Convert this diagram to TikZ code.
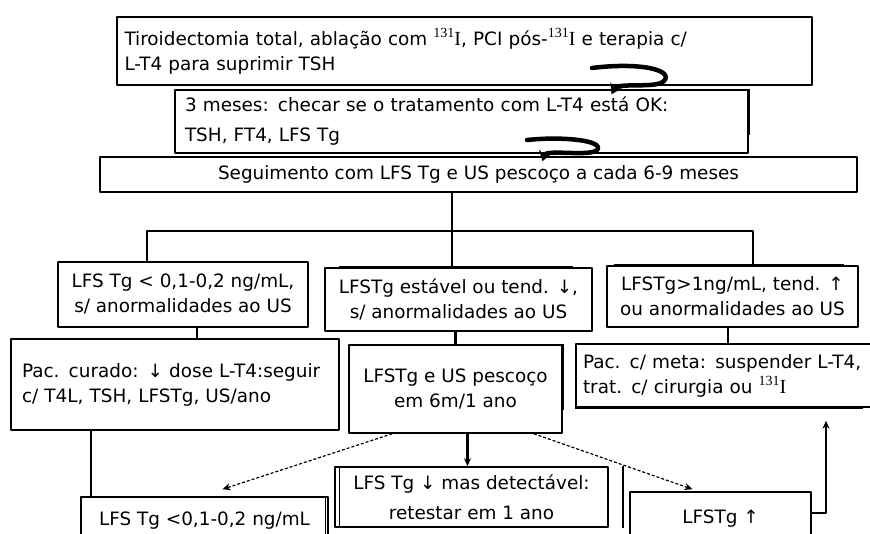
\documentclass[tikz,border=0pt]{standalone}
\usepackage{fontspec}
\setmainfont{DejaVu Sans}
\newfontfamily\timesf{Liberation Serif}
\newcommand\iod{{\timesf\raisebox{0.42em}{\fontsize{14}{14}\selectfont 131}\fontsize{20}{25}\selectfont I}}
\usetikzlibrary{arrows.meta}
\tikzset{box/.style={draw,line width=1.5pt,inner sep=0pt,align=center}}
\begin{document}
\begin{tikzpicture}[>={Stealth[length=8pt,width=7pt]},x=1pt,y=-1pt,line join=round,
  font=\fontsize{18.4}{25}\selectfont,
  conn/.style={line width=2.3pt},
  dsh/.style={->,line width=1.2pt,dash pattern=on 3pt off 2pt},
  curl/.style={-{Stealth[length=10pt,width=13pt]},line width=4.5pt,line cap=round}]
\useasboundingbox (0,0) rectangle (870,534);
\clip (0,0) rectangle (870,534);
\node[box,minimum width=695,minimum height=68,text width=680,align=left] (trat) at (464.5,51)
  {Tiroidectomia total, ablação com \iod, PCI pós-\iod{} e terapia c/\\L-T4 para suprimir TSH};
\node[box,minimum width=573,minimum height=63,text width=553,align=left] (check) at (461.5,121.5)
  {3 meses: checar se o tratamento com L-T4 está OK:\\[5pt]TSH, FT4, LFS Tg};
\node[box,minimum width=757,minimum height=35] (follow) at (478.5,174.5)
  {Seguimento com LFS Tg e US pescoço a cada 6-9 meses};
\node[box,minimum width=250,minimum height=65] (low) at (183,294.5)
  {LFS Tg < 0,1-0,2 ng/mL,\\s/ anormalidades ao US};
\node[box,minimum width=267,minimum height=63] (stable) at (458.5,299.5)
  {LFSTg estável ou tend. ↓,\\s/ anormalidades ao US};
\node[box,minimum width=251,minimum height=61] (high) at (732.5,296.5)
  {LFSTg>1ng/mL, tend. ↑\\ou anormalidades ao US};
\node[box,minimum width=328,minimum height=91,text width=306,align=left] (cured) at (175,384.5)
  {Pac. curado: ↓ dose L-T4:seguir\\c/ T4L, TSH, LFSTg, US/ano};
\node[box,minimum width=213,minimum height=88] (recheck) at (455.5,389)
  {LFSTg e US pescoço\\em 6m/1 ano};
\node[box,minimum width=304,minimum height=63,text width=290,align=left] (meta) at (728,375.5)
  {Pac. c/ meta: suspender L-T4,\\trat. c/ cirurgia ou \iod};
\node[box,minimum width=247,minimum height=48] (lowb) at (204.5,521)
  {LFS Tg <0,1-0,2 ng/mL};
\node[box,minimum width=273,minimum height=60] (down) at (471.5,497)
  {LFS Tg ↓ mas detectável:\\[5pt]retestar em 1 ano};
\node[box,minimum width=181,minimum height=53] (up) at (720.5,518.5)
  {LFSTg ↑};

\coordinate (s1) at (592,68);
\coordinate (s2) at (527,140);
\draw[curl] (s1) .. controls (640,62) and (674,70) .. (664,81) .. controls (656,89) and (618,82) .. ([shift={(150,5)}]check.north);
\draw[curl] (s2) .. controls (565,136) and (605,141) .. (597,150) .. controls (590,157) and (546,149) .. ([shift={(64,5)}]follow.north);

\coordinate (bl) at (147,231);
\coordinate (bm) at (452,231);
\coordinate (br) at (753,231);
\draw[conn] (follow.south -| bm) -- (stable.north -| bm);
\draw[conn] (low.north -| bl) |- (br) -- (high.north -| br);

\coordinate (l2) at ([xshift=14]low.south);
\draw[conn] (l2) -- (l2 |- cured.north);
\draw[conn] (stable.south -| recheck.north) -- (recheck.north);
\draw[conn] (high.south -| meta.north) -- (meta.north);
\coordinate (l1) at ([xshift=11]lowb.north west);
\draw[conn] (cured.south -| l1) -- (l1);
\coordinate (r2) at ([xshift=12]recheck.south);
\draw[conn,->] (r2) -- (r2 |- down.north);
\draw[dsh] ([xshift=44]recheck.south west) -- ([shift={(18,-7)}]lowb.north);
\draw[dsh] ([xshift=-29]recheck.south east) -- ([shift={(-28,-2)}]up.north);
\draw[conn,->] ([yshift=5.5]up.east) -| ([shift={(98,13)}]meta.south);

\draw[line width=3pt] ([xshift=15]stable.north west) -- ([xshift=-20]stable.north east);
\draw[line width=3pt] ([xshift=8]high.north west) -- ([xshift=-15]high.north east);
\draw[line width=3pt] (meta.south west) -- ([xshift=-18]meta.south east);
\draw[line width=3pt] (recheck.north east) -- ([yshift=-21]recheck.east);
\draw[line width=3pt] (check.north east) -- ([yshift=-13.5]check.east);
\draw[line width=1.2pt] ([xshift=-3.5]lowb.north east) -- ([xshift=-3.5]lowb.south east);
\draw[line width=1.2pt] ([xshift=5]down.north west) -- ([xshift=5]down.south west);
\draw[line width=1.5pt] ([xshift=14]down.north east) -- ([xshift=14]down.south east);
\end{tikzpicture}
\end{document}
